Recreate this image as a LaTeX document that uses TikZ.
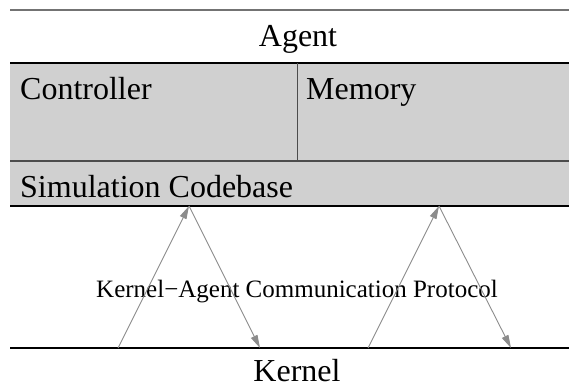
\documentclass[tikz,border=0pt]{standalone}
\usepackage{fontspec}
\setmainfont{Liberation Serif}
\usetikzlibrary{arrows.meta}
\definecolor{boxgray}{HTML}{D0D0D0}
\definecolor{arrgray}{HTML}{8C8C8C}
\tikzset{
  bigtxt/.style={inner sep=0pt, font=\fontsize{32}{38}\selectfont},
  smalltxt/.style={inner sep=0pt, font=\fontsize{25}{30}\selectfont},
  flow/.style={draw=arrgray, line width=0.9pt, -{Triangle[length=13pt,width=7pt]}, arrgray},
  rule/.style={line width=1.2pt}
}
\begin{document}
\begin{tikzpicture}[x=1pt,y=-1pt]
\useasboundingbox (0,0) rectangle (569,387);
\fill[white] (0,0) rectangle (569,387);
% gray body
\fill[boxgray] (10,63) rectangle (569,206);
\draw[rule, draw=gray!110] (10,10) -- (569,10);
\draw[rule, black] (10,63) -- (569,63);
\draw[rule, black!70] (10,161) -- (569,161);
\draw[line width=1pt, black!70] (297,63) -- (297,161);
\draw[rule, black] (10,206) -- (569,206);
\draw[rule, black] (10,348) -- (569,348);
% texts
\node[bigtxt, anchor=base] (agent) at (298,47) {Agent};
\node[bigtxt, anchor=base west] (ctrl) at (20,100) {Controller};
\node[bigtxt, anchor=base west] (mem) at (306,100) {Memory};
\node[bigtxt, anchor=base west] (sim) at (20,197) {Simulation Codebase};
\node[smalltxt, anchor=base] (proto) at (297,297) {Kernel\textminus Agent Communication Protocol};
\node[bigtxt, anchor=base, text depth=0pt] (kernel) at (297,381) {Kernel};
% arrow end points
\coordinate (k1) at (118,348);
\coordinate (s1) at (189,206);
\coordinate (k2) at (260,348);
\coordinate (k3) at (368,348);
\coordinate (s2) at (439,206);
\coordinate (k4) at (511,348);
\draw[flow] (k1) -- (s1);
\draw[flow] (s1) -- (k2);
\draw[flow] (k3) -- (s2);
\draw[flow] (s2) -- (k4);
\end{tikzpicture}
\end{document}
